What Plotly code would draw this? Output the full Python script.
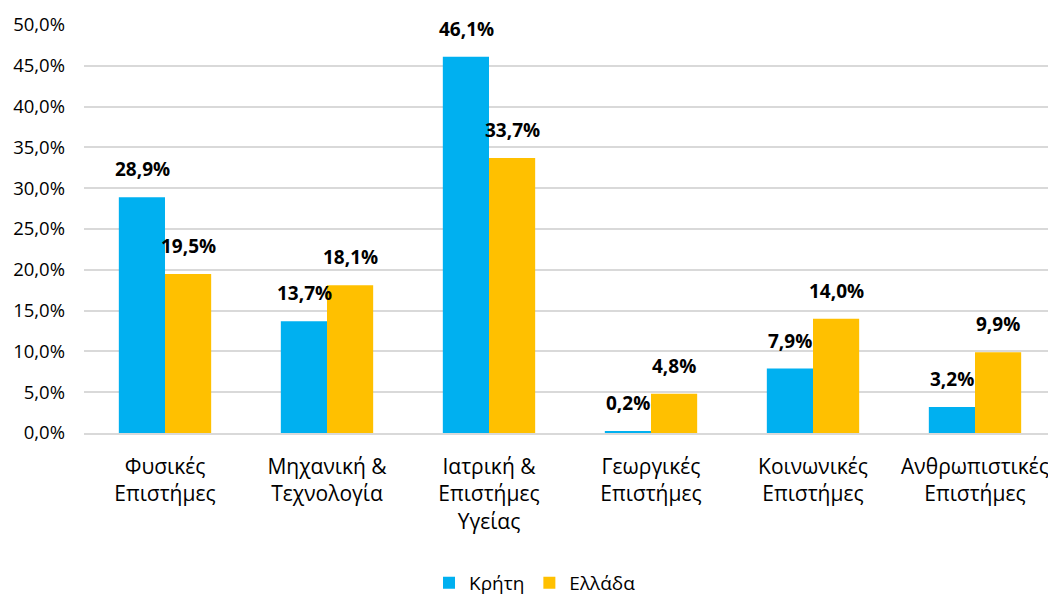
import plotly.graph_objects as go

categories = ["Φυσικές<br>Επιστήμες", "Μηχανική &<br>Τεχνολογία", "Ιατρική &<br>Επιστήμες<br>Υγείας",
              "Γεωργικές<br>Επιστήμες", "Κοινωνικές<br>Επιστήμες", "Ανθρωπιστικές<br>Επιστήμες"]
kriti = [28.9, 13.7, 46.1, 0.2, 7.9, 3.2]
ellada = [19.5, 18.1, 33.7, 4.8, 14.0, 9.9]
series_names = ["Κρήτη", "Ελλάδα"]
colors = ["#00B0F0", "#FFC000"]

FONT = "Open Sans, DejaVu Sans, sans-serif"

def fmt(v):
    return f"{v:.1f}%".replace(".", ",")

fig = go.Figure()
for name, vals, col in zip(series_names, [kriti, ellada], colors):
    fig.add_trace(go.Bar(
        x=categories, y=vals, name=name, marker=dict(color=col, line=dict(width=0)),
    ))

# data labels above the bars
for vals, shift in zip([kriti, ellada], [-23, 23]):
    for c, v in zip(categories, vals):
        fig.add_annotation(x=c, y=v, xref="x", yref="y", text=f"<b>{fmt(v)}</b>",
                           showarrow=False, yanchor="bottom", xanchor="center",
                           xshift=shift, yshift=13,
                           font=dict(family=FONT, size=19, color="#000000"))

fig.update_layout(
    width=1048, height=589,
    margin=dict(l=76, r=0, t=17, b=164, autoexpand=False),
    paper_bgcolor="white", plot_bgcolor="white",
    separators=",.",
    barmode="group", bargap=0.43, bargroupgap=0,
    font=dict(family=FONT, size=16, color="#000000"),
    showlegend=True,
    legend=dict(orientation="h", x=0.464, xanchor="center",
                yref="container", y=0.024, yanchor="middle",
                font=dict(family=FONT, size=19, color="#000000"), itemwidth=30,
                traceorder="normal"),
)
fig.update_yaxes(range=[0, 50], dtick=5, tickformat=".1f", ticksuffix="%",
                 showgrid=True, gridcolor="#D9D9D9", gridwidth=1.5, zeroline=False,
                 showline=False, ticks="", ticklabelstandoff=18,
                 tickfont=dict(family=FONT, size=18.5, color="#000000"))
fig.update_xaxes(showline=True, linecolor="#D9D9D9", linewidth=1.5, ticks="",
                 tickfont=dict(family=FONT, size=21, color="#000000"), ticklabelstandoff=14)

fig.write_html("out.html")
